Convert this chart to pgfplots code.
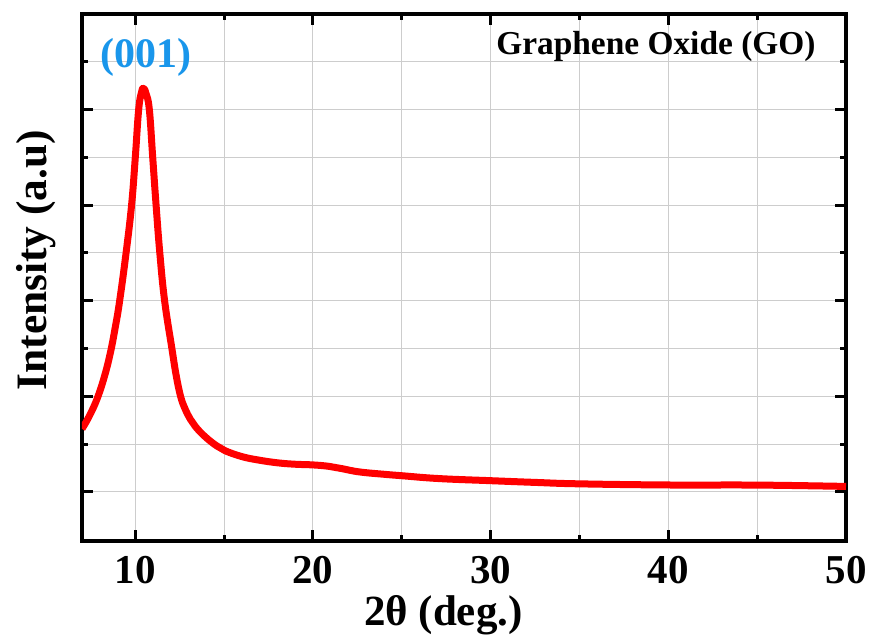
\documentclass[border=0pt]{standalone}
\usepackage{pgfplots}
\pgfplotsset{compat=1.18}
\usepackage{fontspec}
\setmainfont{Liberation Serif}
\definecolor{curvered}{RGB}{255,0,0}
\definecolor{peakblue}{RGB}{25,150,235}
\definecolor{gridgray}{RGB}{205,205,205}

\begin{document}
\begin{tikzpicture}
\useasboundingbox (-41pt,-48.5pt) rectangle (395pt,270.5pt);
\begin{axis}[
  at={(0,0)}, anchor=south west,
  scale only axis, width=382pt, height=263.5pt,
  xmin=7, xmax=50, ymin=-0.513, ymax=5.0,
  xtick={10,20,30,40,50}, minor xtick={15,25,35,45},
  ytick={0,1,2,3,4}, minor ytick={0.5,1.5,2.5,3.5,4.5},
  yticklabels={},
  tick align=inside,
  major tick length=5.5pt, minor tick length=3pt,
  every tick/.style={black, line width=1.5pt},
  grid=both,
  major grid style={gridgray, line width=0.5pt},
  minor grid style={gridgray, line width=0.5pt},
  axis line style={line width=2pt},
  /pgf/number format/assume math mode=true,
  xticklabel style={font=\fontsize{20.5}{24}\selectfont\bfseries, anchor=base, yshift=-21pt},
  xlabel={2θ (deg.)},
  ylabel={Intensity (a.u)},
  xlabel style={font=\fontsize{21.5}{25}\selectfont\bfseries,
    at={(axis description cs:0.473,-0.1594)}, anchor=base},
  ylabel style={font=\fontsize{21.7}{25}\selectfont\bfseries,
    at={(axis description cs:-0.0471,0.533)}, anchor=base},
]
% XRD pattern of GO: sharp (001) reflection near 10.5 deg and a broad tail
\addplot[curvered, line width=3.5pt, smooth, tension=0.7, line join=round] coordinates {
  (7.0,0.66) (7.4,0.79) (7.84,0.97) (8.25,1.2) (8.59,1.45) (8.87,1.72)
  (9.12,2.0) (9.48,2.5) (9.79,3.0) (10.0,3.5) (10.19,4.0) (10.36,4.19)
  (10.47,4.22) (10.6,4.17) (10.79,4.0) (10.98,3.5) (11.17,3.0) (11.38,2.5)
  (11.65,2.0) (12.06,1.5) (12.3,1.22) (12.55,1.0) (12.8,0.87) (13.1,0.76)
  (13.4,0.68) (13.8,0.6) (14.1,0.55) (14.6,0.48) (15.07,0.43) (16.0,0.37)
  (16.9,0.335) (18.0,0.305) (19.0,0.29) (20.0,0.283) (20.9,0.268) (21.6,0.245)
  (22.6,0.21) (24.0,0.185) (25.0,0.17) (27.1,0.14) (30.0,0.118) (32.5,0.10)
  (35.0,0.085) (40.0,0.073) (45.0,0.072) (50.0,0.058)
};
\node[anchor=base, text=peakblue, font=\fontsize{21}{25}\selectfont\bfseries]
  at (axis cs:10.61,4.44) {(001)};
\node[anchor=base, font=\fontsize{16.7}{20}\selectfont\bfseries]
  at (axis cs:39.3,4.576) {Graphene Oxide (GO)};
\end{axis}
\end{tikzpicture}
\end{document}
